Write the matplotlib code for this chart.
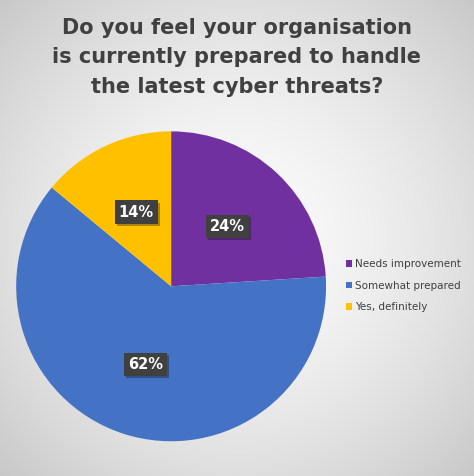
import matplotlib
matplotlib.use("Agg")
import matplotlib.pyplot as plt
import matplotlib.patheffects as pe
import numpy as np

# data
categories = ["Needs improvement", "Somewhat prepared", "Yes, definitely"]
shares = [24, 62, 14]
colours = ["#7030A0", "#4472C4", "#FFC000"]
title = "Do you feel your organisation\nis currently prepared to handle\nthe latest cyber threats?"

fig = plt.figure(figsize=(4.74, 4.76), dpi=100)

# radial grey gradient behind everything (light centre, darker corners)
bg = fig.add_axes([0, 0, 1, 1], zorder=0)
yy, xx = np.mgrid[-1:1:300j, -1:1:300j]
rr = np.clip(np.sqrt(xx**2 + yy**2) / np.sqrt(2), 0, 1)
shade = 0.985 - 0.2 * rr**1.6
bg.imshow(np.dstack([shade] * 3), extent=[0, 1, 0, 1], aspect="auto",
          interpolation="bicubic")
bg.set_axis_off()

fig.text(0.5, 0.963, title, ha="center", va="top", fontsize=15,
         fontweight="bold", color="#404040", linespacing=1.6)

ax = fig.add_axes([0.034, 0.073, 0.654, 0.651], zorder=1)
wedges, texts, autotexts = ax.pie(
    shares, colors=colours, startangle=90, counterclock=False,
    autopct="%1.0f%%", pctdistance=0.53,
    textprops=dict(color="white", fontsize=10.5, fontweight="bold"))
for t in autotexts:
    t.set_bbox(dict(boxstyle="square,pad=0.28", fc="#404040", ec="none"))
    t.get_bbox_patch().set_path_effects(
        [pe.SimplePatchShadow(offset=(1.5, -1.5), alpha=0.35), pe.Normal()])
ax.set_xlim(-1, 1)
ax.set_ylim(-1, 1)
ax.set_aspect("equal")
ax.set_axis_off()

leg = fig.legend(wedges, categories, loc="center left",
                 bbox_to_anchor=(0.71, 0.40), frameon=False,
                 fontsize=7.5, handlelength=0.55, handleheight=0.55,
                 handletextpad=0.3, labelspacing=1.1)
for t in leg.get_texts():
    t.set_color("#404040")

fig.savefig("out.png", dpi=100)
